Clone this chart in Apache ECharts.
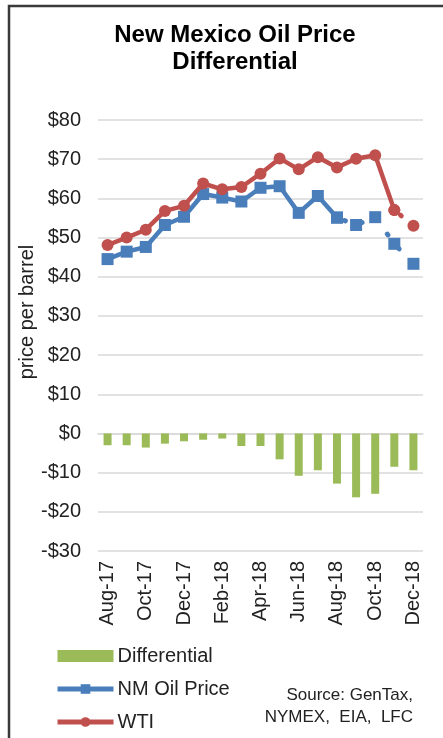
<!DOCTYPE html>
<html>
<head>
<meta charset="utf-8">
<script src="https://cdn.jsdelivr.net/npm/echarts@6/dist/echarts.min.js"></script>
<style>
  html, body { margin: 0; padding: 0; background: #fff; }
  #biao1 { width: 443px; height: 738px; }
</style>
</head>
<body>
<div id="biao1"></div>
<script>
// months Aug-17 .. Dec-18
var months = ['Aug-17', 'Sep-17', 'Oct-17', 'Nov-17', 'Dec-17', 'Jan-18', 'Feb-18', 'Mar-18',
  'Apr-18', 'May-18', 'Jun-18', 'Jul-18', 'Aug-18', 'Sep-18', 'Oct-18', 'Nov-18', 'Dec-18'];
var wti = [48.1, 50.0, 52.0, 56.8, 58.1, 63.8, 62.3, 62.9, 66.3, 70.2, 67.4, 70.5, 67.9, 70.1, 71.0, 57.0, 53.0];
var nmPrice = [44.5, 46.4, 47.6, 53.2, 55.3, 61.1, 60.2, 59.2, 62.7, 63.1, 56.3, 60.6, 55.1, 53.2, 55.2, 48.4, 43.3];
var differential = [-3.0, -3.0, -3.6, -2.6, -2.0, -1.6, -1.3, -3.2, -3.2, -6.6, -10.8, -9.4, -12.8, -16.3, -15.4, -8.5, -9.4];
var yTicks = { min: -30, max: 80, step: 10 };

var red = '#C0504D', blue = '#4A7EBB', green = '#9BBB59';

// solid part / dotted (projected) part
function part(arr, from, to) {
  return arr.map(function (v, i) { return (i >= from && i <= to) ? v : null; });
}
var nmSolid = part(nmPrice, 0, 12);
var nmDot = part(nmPrice, 12, 16);
var wtiSolid = part(wti, 0, 15);
var wtiDot = part(wti, 15, 16);

var dom = document.getElementById('biao1');
var myChart = echarts.init(dom, null, { renderer: 'canvas' });

var font = 'Liberation Sans, Arial, sans-serif';
var dotted = { type: [1, 17], width: 5, cap: 'round' };

var option = {
  animation: false,
  textStyle: { fontFamily: font },
  graphic: [
    { type: 'rect', shape: { x: 9, y: 6, width: 600, height: 900 },
      style: { fill: 'none', stroke: '#3a3a3a', lineWidth: 2.5 }, z: 100 },
    { type: 'text', x: 235, y: 22,
      style: { text: 'New Mexico Oil Price\nDifferential', fontFamily: font, fontSize: 24, fontWeight: 'bold',
        fill: '#000', align: 'center', lineHeight: 27 } },
    { type: 'text', x: 27, y: 312, rotation: Math.PI / 2,
      style: { text: 'price per barrel', fontFamily: font, fontSize: 20, fill: '#222',
        align: 'center', verticalAlign: 'middle' } },
    { type: 'text', x: 413, y: 684,
      style: { text: 'Source: GenTax,\nNYMEX,  EIA,  LFC', fontFamily: font, fontSize: 17, fill: '#222',
        align: 'right', lineHeight: 22 } }
  ],
  grid: { left: 98, right: 20, top: 120, bottom: 187 },
  legend: {
    data: [
      { name: 'Differential', icon: 'rect', itemStyle: { color: green } },
      { name: 'NM Oil Price' },
      { name: 'WTI' }
    ],
    orient: 'vertical',
    left: 55, top: 646, padding: 0,
    itemWidth: 56, itemHeight: 12, itemGap: 13,
    lineStyle: { width: 5 },
    textStyle: { fontSize: 20, color: '#222', fontFamily: font, padding: [0, 0, 0, -1] }
  },
  xAxis: [
    {
      type: 'category', data: months, position: 'bottom',
      axisLine: { show: false, onZero: false }, axisTick: { show: false },
      axisLabel: { rotate: 90, interval: 1, fontSize: 20, color: '#222', margin: 10 }
    },
    {
      type: 'category', data: months,
      axisLine: { onZero: true, lineStyle: { color: '#D9D9D9', width: 1.5 } },
      axisTick: { inside: true, interval: 1, length: 5, lineStyle: { color: '#D9D9D9' } },
      axisLabel: { show: false }
    }
  ],
  yAxis: {
    type: 'value', min: yTicks.min, max: yTicks.max, interval: yTicks.step,
    axisLine: { show: false }, axisTick: { show: false },
    splitLine: { lineStyle: { color: '#D9D9D9', width: 1.5 } },
    axisLabel: {
      fontSize: 20, color: '#222', margin: 17,
      formatter: function (v) { return v < 0 ? '-$' + Math.abs(v) : '$' + v; }
    }
  },
  series: [
    { name: 'Differential', type: 'bar', data: differential, barWidth: 8,
      itemStyle: { color: green } },
    { name: 'NM Oil Price', type: 'line', data: nmSolid, symbol: 'rect', symbolSize: 12,
      itemStyle: { color: blue }, lineStyle: { color: blue, width: 4.5 }, z: 3 },
    { name: 'NM proj', type: 'line', data: nmDot, symbol: 'rect', symbolSize: 12,
      itemStyle: { color: blue }, lineStyle: { color: blue, type: dotted.type, width: dotted.width, cap: dotted.cap, dashOffset: -8 }, z: 3 },
    { name: 'WTI', type: 'line', data: wtiSolid, symbol: 'circle', symbolSize: 12,
      itemStyle: { color: red }, lineStyle: { color: red, width: 4.5 }, z: 4 },
    { name: 'WTI proj', type: 'line', data: wtiDot, symbol: 'circle', symbolSize: 12,
      itemStyle: { color: red }, lineStyle: { color: red, type: dotted.type, width: dotted.width, cap: dotted.cap, dashOffset: -8 }, z: 4 }
  ]
};

if (option && typeof option === 'object') {
  myChart.setOption(option);
}
window.addEventListener('resize', myChart.resize);
</script>
</body>
</html>
